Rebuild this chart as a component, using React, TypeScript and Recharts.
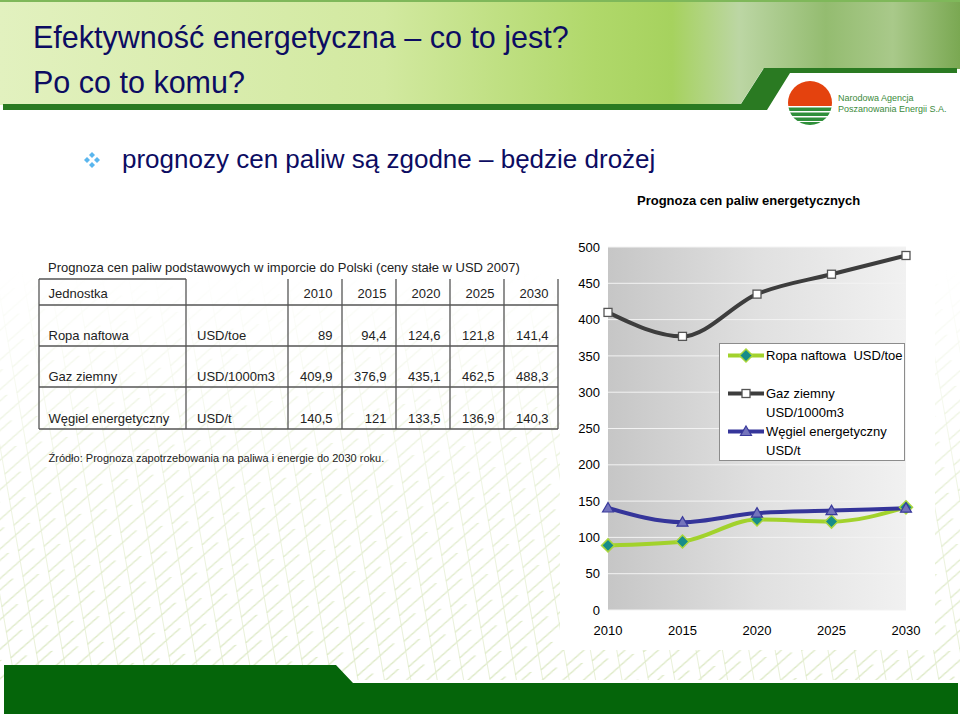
import React from "react";
import { LineChart, Line, XAxis, YAxis, CartesianGrid, Legend } from "recharts";

// forecast of fuel prices
const years = ["2010", "2015", "2020", "2025", "2030"];
const ropa = [89, 94.4, 124.6, 121.8, 141.4];
const gaz = [409.9, 376.9, 435.1, 462.5, 488.3];
const wegiel = [140.5, 121, 133.5, 136.9, 140.3];

const yTicks = [0, 50, 100, 150, 200, 250, 300, 350, 400, 450, 500];

const seriesKeys = ["ropa", "gaz", "wegiel"];
const seriesNames = ["Ropa naftowa  USD/toe", "Gaz ziemny USD/1000m3", "Węgiel energetyczny USD/t"];
const seriesColors = ["#a2d22c", "#3d3d3d", "#35359a"];

const rowLabels = ["Ropa naftowa", "Gaz ziemny", "Węgiel energetyczny"];
const rowUnits = ["USD/toe", "USD/1000m3", "USD/t"];
const rowValues = [ropa, gaz, wegiel];

const data = years.map((year, i) => ({ year, ropa: ropa[i], gaz: gaz[i], wegiel: wegiel[i] }));

const FONT = '"Liberation Sans", Arial, Helvetica, sans-serif';
const NAVY = "#0c0c62";

const fmt = (v: number) => String(v).replace(".", ",");

function marker(key: string, cx: number, cy: number) {
  if (key === "ropa") {
    const s = 6.5;
    return (
      <path
        d={`M${cx},${cy - s}L${cx + s},${cy}L${cx},${cy + s}L${cx - s},${cy}Z`}
        fill="#178c8a"
        stroke="#a9d63c"
        strokeWidth={1.5}
      />
    );
  }
  if (key === "gaz") {
    return <rect x={cx - 4} y={cy - 4} width={8} height={8} fill="#fff" stroke="#555" strokeWidth={1.3} />;
  }
  return (
    <path
      d={`M${cx},${cy - 5.5}L${cx + 5.5},${cy + 4}L${cx - 5.5},${cy + 4}Z`}
      fill="#7474bc"
      stroke="#3a3a9c"
      strokeWidth={1.2}
    />
  );
}

const makeDot = (key: string) => (props: any) => {
  const { cx, cy, index } = props;
  if (cx == null || cy == null) return <g key={`${key}-${index}`} />;
  return <g key={`${key}-${index}`}>{marker(key, cx, cy)}</g>;
};

const renderLegend = (props: any) => {
  const payload = props.payload || [];
  return (
    <div
      style={{
        width: 186,
        height: 118,
        boxSizing: "border-box",
        border: "1px solid #8c8c8c",
        background: "#fff",
        paddingTop: 2,
        fontFamily: FONT,
        fontSize: 13,
        color: "#000",
      }}
    >
      {payload.map((entry: any) => (
        <div key={entry.value} style={{ display: "flex", height: 38 }}>
          <svg width={46} height={19} style={{ flex: "none" }}>
            <line x1={8} x2={44} y1={9.5} y2={9.5} stroke={entry.color} strokeWidth={4} />
            {marker(entry.dataKey, 26, 9.5)}
          </svg>
          <div style={{ lineHeight: "19px", width: 140, whiteSpace: "pre-wrap" }}>{entry.value}</div>
        </div>
      ))}
    </div>
  );
};

function Slide() {
  const colX = [39, 186, 288, 342, 396, 450, 504, 558];
  const rowY = [279, 305, 346, 387, 429];
  const lineColor = "#555";
  return (
    <svg width={960} height={716} style={{ position: "absolute", left: 0, top: 0 }}>
      <defs>
        <linearGradient id="hdr" x1="0" x2="1" y1="0" y2="0">
          <stop offset="0" stopColor="#e2f1bf" />
          <stop offset="0.4" stopColor="#d2e9a0" />
          <stop offset="0.62" stopColor="#b0d86a" />
          <stop offset="0.7" stopColor="#a6d25e" />
          <stop offset="0.77" stopColor="#bcd6a4" />
          <stop offset="0.86" stopColor="#94bc70" />
          <stop offset="0.93" stopColor="#a9c98a" />
          <stop offset="1" stopColor="#7aa852" />
        </linearGradient>
        <pattern id="lattice" width={26} height={26} patternUnits="userSpaceOnUse" patternTransform="rotate(-10)">
          <path d="M0,0 V26 M0,26 L26,10 M0,10 L26,-6" stroke="#dbe8c2" strokeWidth={1.3} fill="none" />
        </pattern>
        <linearGradient id="fade" x1="0" x2="0" y1="0" y2="1">
          <stop offset="0" stopColor="#fff" stopOpacity={1} />
          <stop offset="0.55" stopColor="#fff" stopOpacity={0.25} />
          <stop offset="1" stopColor="#fff" stopOpacity={0} />
        </linearGradient>
        <clipPath id="logoClip">
          <circle cx={810} cy={103} r={22} />
        </clipPath>
      </defs>

      <rect x={0} y={0} width={960} height={716} fill="#fff" />
      <rect x={0} y={270} width={960} height={410} fill="url(#lattice)" />
      <rect x={0} y={270} width={960} height={410} fill="url(#fade)" />

      {/* header band */}
      <polygon points="0,0 960,0 960,69 763,69 740,105 0,105" fill="url(#hdr)" />
      <rect x={0} y={0} width={960} height={2} fill="#7fb85a" />
      <polygon points="3,104 741,104 764,68 957,68 957,73 790,73 767,110 3,110" fill="#2a7a22" />

      {/* logo */}
      <g clipPath="url(#logoClip)">
        <rect x={786} y={80} width={48} height={26} fill="#e4420e" />
        <rect x={786} y={106} width={48} height={22} fill="#fff" />
        <rect x={786} y={107.5} width={48} height={3.5} fill="#2f8f3a" />
        <rect x={786} y={112.5} width={48} height={3.5} fill="#2f8f3a" />
        <rect x={786} y={117.5} width={48} height={3.5} fill="#2f8f3a" />
        <rect x={786} y={122} width={48} height={6} fill="#2f8f3a" />
      </g>
      <text x={838} y={101} fontFamily={FONT} fontSize={9} fill="#3b8a3b">Narodowa Agencja</text>
      <text x={838} y={112} fontFamily={FONT} fontSize={9} fill="#3b8a3b">Poszanowania Energii S.A.</text>

      {/* titles */}
      <text x={33} y={48} fontFamily={FONT} fontSize={30.5} fill={NAVY}>Efektywność energetyczna – co to jest?</text>
      <text x={33} y={93} fontFamily={FONT} fontSize={30.5} fill={NAVY}>Po co to komu?</text>

      <g fill="#5ab6ee">
        {[[0, -5], [5, 0], [0, 5], [-5, 0]].map(([dx, dy]) => (
          <path key={`${dx}${dy}`} d={`M${92 + dx},${160 + dy - 3}l3,3l-3,3l-3,-3Z`} />
        ))}
      </g>
      <text x={122} y={168} fontFamily={FONT} fontSize={26} fill={NAVY}>prognozy cen paliw są zgodne – będzie drożej</text>

      <text x={637} y={205} fontFamily={FONT} fontSize={13} fontWeight="bold" fill="#000">Prognoza cen paliw energetycznych</text>

      {/* table */}
      <text x={48} y={272} fontFamily={FONT} fontSize={13} fill="#222">
        Prognoza cen paliw podstawowych w imporcie do Polski (ceny stałe w USD 2007)
      </text>
      <g stroke={lineColor} strokeWidth={1.3}>
        <line x1={colX[0]} x2={colX[1]} y1={rowY[0]} y2={rowY[0]} />
        {rowY.slice(1).map((y) => (
          <line key={y} x1={colX[0]} x2={colX[7]} y1={y} y2={y} />
        ))}
        {colX.map((x) => (
          <line key={x} x1={x} x2={x} y1={rowY[0]} y2={rowY[4]} />
        ))}
      </g>
      <g fontFamily={FONT} fontSize={13} fill="#222">
        <text x={48.5} y={297.5}>Jednostka</text>
        {years.map((y, i) => (
          <text key={y} x={colX[i + 3] - 9.5} y={297.5} textAnchor="end">{y}</text>
        ))}
        {rowLabels.map((label, r) => {
          const by = rowY[r + 2] - 6;
          return (
            <g key={label}>
              <text x={48.5} y={by}>{label}</text>
              <text x={197} y={by}>{rowUnits[r]}</text>
              {rowValues[r].map((v, i) => (
                <text key={i} x={colX[i + 3] - 9.5} y={by} textAnchor="end">{fmt(v)}</text>
              ))}
            </g>
          );
        })}
      </g>
      <text x={48.5} y={462} fontFamily={FONT} fontSize={11} fill="#222">
        Źródło: Prognoza zapotrzebowania na paliwa i energie do 2030 roku.
      </text>

      {/* footer bar */}
      <polygon points="4,665 336,665 353,683 958,683 958,714 4,714" fill="#05650a" />
    </svg>
  );
}

export default function App() {
  return (
    <div style={{ position: "absolute", left: 0, top: 0, width: 960, height: 716, overflow: "hidden" }}>
      <Slide />
      <div style={{ position: "absolute", left: 560, top: 230, width: 375, height: 420, background: "#fff" }}>
        <LineChart width={375} height={420} data={data} margin={{ top: 17, right: 29, bottom: 10, left: 0 }}>
          <defs>
            <linearGradient id="plotBg" x1="0" x2="1" y1="0" y2="0">
              <stop offset="0" stopColor="#c6c6c6" />
              <stop offset="0.5" stopColor="#e0e0e0" />
              <stop offset="1" stopColor="#f1f1f1" />
            </linearGradient>
          </defs>
          <CartesianGrid vertical={false} stroke="#f3f3f3" fill="url(#plotBg)" fillOpacity={1} />
          <XAxis
            dataKey="year"
            height={30}
            axisLine={false}
            tickLine={false}
            tickMargin={10}
            interval={0}
            tick={{ fontSize: 13, fill: "#000", fontFamily: FONT }}
          />
          <YAxis
            width={48}
            domain={[0, 500]}
            ticks={yTicks}
            interval={0}
            axisLine={false}
            tickLine={false}
            tickMargin={2}
            tick={{ fontSize: 13, fill: "#000", fontFamily: FONT }}
          />
          <Legend
            layout="vertical"
            align="center"
            verticalAlign="middle"
            content={renderLegend}
            itemSorter={(item: any) => seriesKeys.indexOf(item.dataKey)}
            wrapperStyle={{ position: "absolute", left: 159, top: 113, width: 186, height: 118 }}
          />
          {seriesKeys.map((key, i) => (
            <Line
              key={key}
              type="monotone"
              dataKey={key}
              name={seriesNames[i]}
              stroke={seriesColors[i]}
              strokeWidth={4}
              dot={makeDot(key)}
              activeDot={false}
              isAnimationActive={false}
            />
          ))}
        </LineChart>
      </div>
    </div>
  );
}
